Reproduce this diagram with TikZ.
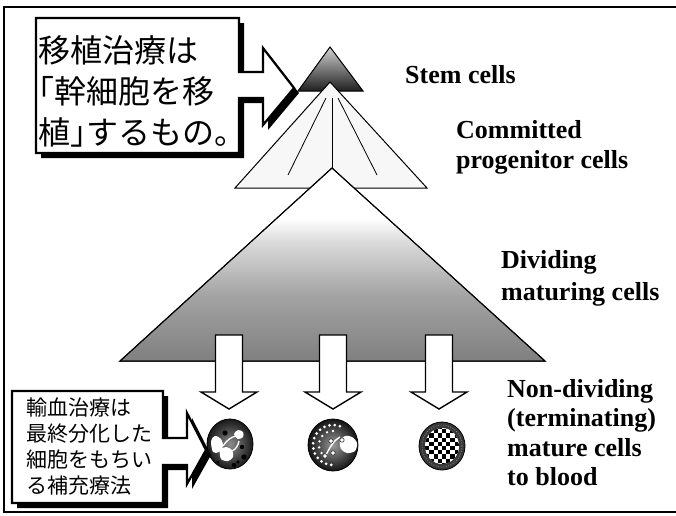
\documentclass[tikz,border=0pt]{standalone}
\usepackage{fontspec}
\setmainfont{Liberation Serif}
\newfontfamily\jpfont{Noto Sans CJK JP}
\newfontfamily\jphalf[RawFeature=+halt]{Noto Sans CJK JP}
% white near the apex, mid grey towards the base
\pgfdeclareverticalshading{maturing}{100bp}{color(0bp)=(black!50); color(25bp)=(black!50); color(42bp)=(black!36); color(56bp)=(black!14); color(62bp)=(white); color(100bp)=(white)}
\begin{document}
\begin{tikzpicture}[x=1pt,y=-1pt,
  frameline/.style={line width=1.4pt},
  tri/.style={draw=black, line width=1pt, line join=miter},
  fanline/.style={line width=0.8pt},
  blockarrow/.style={fill=white, draw=black, line width=1.4pt, line join=miter},
  callout/.style={fill=white, draw=black, line width=2.2pt, line join=miter},
  calloutshade/.style={fill=black},
  celldark/.style={draw=black, line width=0.8pt, inner color=black!45, outer color=black!90},
  granule/.style={fill=white},
  lbl/.style={font=\bfseries\fontsize{26}{30}\selectfont, anchor=base west, align=left, inner sep=0pt},
  jptext/.style={anchor=base west, align=left, inner sep=0pt},
]
\useasboundingbox (0,0) rectangle (676,515);
\fill[white] (0,0) rectangle (676,515);

% frame
\draw[frameline] (676,7) -- (4,7) -- (4,512) -- (676,512);

% stem cell triangle
\shade[tri, top color=black!18, bottom color=black!88] (330,47) -- (363,91) -- (298,91) -- cycle;
% committed progenitor triangle with its fan of lines
\filldraw[tri, fill=black!3] (330,82) -- (427,188) -- (235,188) -- cycle;
\draw[fanline] (326,98) -- (288,175);
\draw[fanline] (332,98) -- (332,168);
\draw[fanline] (338,98) -- (377,175);
% dividing maturing cells
\shade[tri, shading=maturing] (332,168) -- (545,361) -- (120,361) -- cycle;
\draw[tri] (332,168) -- (545,361) -- (120,361) -- cycle;

% block arrows down to the mature cells
\foreach \cx in {229,333,439}
  \draw[blockarrow] ({\cx-13.5},335) -- ({\cx+13.5},335) -- ({\cx+13.5},392)
    -- ({\cx+28},392) -- (\cx,409) -- ({\cx-28},392) -- ({\cx-13.5},392) -- cycle;

% mature cell 1: granulocyte with lobed nucleus
\shade[celldark] (230,444) ellipse [x radius=23, y radius=25];
\fill[white] plot[smooth cycle] coordinates {(211,441) (215,436) (221,439) (223,446) (219,452) (213,452)};
\fill[white] plot[smooth cycle] coordinates {(220,450) (226,447) (232,450) (233,457) (228,461) (221,459)};
\fill[white] plot[smooth cycle] coordinates {(234,434) (238,430) (243,432) (243,437) (238,439)};
\draw[white, line width=1.3pt] (223,446) .. controls (227,440) and (231,437) .. (236,436);
\draw[white, line width=1.3pt] (232,451) .. controls (236,449) and (238,446) .. (239,441);
\fill[black] (225,433) circle (2.6) (242,447) circle (2.2) (234,465) circle (2.2)
  (244,457) circle (2.6) (238,462) circle (1.8) (218,462) circle (1.5);

% mature cell 2: granule-filled cell
\shade[celldark, inner color=black!40, outer color=black!92] (333,445) ellipse [x radius=25, y radius=26];
\foreach \a in {95,110,...,290}
  \fill[granule] ([shift={(\a:20)}]333,445) circle (1.5);
\foreach \a in {120,145,...,270}
  \fill[granule] ([shift={(\a:14)}]333,445) circle (1.3);
\fill[white] plot[smooth cycle] coordinates {(340,441) (345,436) (352,437) (357,443) (355,451) (347,453) (341,449)};
\draw[white, line width=1.4pt] (326,455) .. controls (330,447) and (334,440) .. (340,437);
\foreach \p in {(331,441),(333,453),(342,440),(325,456)}
  \filldraw[fill=white, draw=black!80, line width=0.6pt] \p circle (2.2);

% mature cell 3: erythrocyte-like ring with checkered body
\filldraw[fill=black!78, draw=black, line width=0.8pt] (442,446) ellipse [x radius=23, y radius=24];
\draw[black!40, line width=0.6pt, dash pattern=on 1pt off 1.5pt] (442,446) ellipse [x radius=20, y radius=21];
\begin{scope}
  \clip (442,446) ellipse [x radius=17, y radius=18];
  \fill[white] (420,424) rectangle (464,468);
  \foreach \i in {0,...,10}
    \foreach \j in {0,...,10} {
      \pgfmathtruncatemacro\chk{mod(\i+\j,2)}
      \ifnum\chk=0
        \fill[black] ({421+\i*4.2},{425+\j*4.2}) rectangle +(4.2,4.2);
      \fi
    }
\end{scope}

% callout: transplantation
\begin{scope}[shift={(5,5)}]
  \fill[calloutshade] (36,18) -- (239,18) -- (239,72) -- (263,72) -- (263,48) -- (294,88)
    -- (263,125) -- (263,98) -- (239,98) -- (239,153) -- (36,153) -- cycle;
\end{scope}
\draw[callout] (36,18) -- (239,18) -- (239,72) -- (263,72) -- (263,48) -- (294,88)
  -- (263,125) -- (263,98) -- (239,98) -- (239,153) -- (36,153) -- cycle;
% multi-line nodes sit on the baseline of their last line
\node[jptext, font=\jpfont\fontsize{32}{41}\selectfont] (transplant) at (38,144)
  {移植治療は\\{\jphalf 「}幹細胞を移\\植{\jphalf 」}するもの。};

% callout: transfusion
\begin{scope}[shift={(5,5)}]
  \fill[calloutshade] (12,391) -- (163,391) -- (163,438) -- (187,438) -- (187,413) -- (206,450)
    -- (187,484) -- (187,465) -- (163,465) -- (163,503) -- (12,503) -- cycle;
\end{scope}
\draw[callout] (12,391) -- (163,391) -- (163,438) -- (187,438) -- (187,413) -- (206,450)
  -- (187,484) -- (187,465) -- (163,465) -- (163,503) -- (12,503) -- cycle;
\node[jptext, font=\jpfont\fontsize{21}{25.7}\selectfont] (transfusion) at (26,493)
  {輸血治療は\\最終分化した\\細胞をもちい\\る補充療法};

% stage labels
\node[lbl] (stem) at (405,83) {Stem cells};
\node[lbl] (committed) at (456,168) {Committed\\progenitor cells};
\node[lbl, font=\bfseries\fontsize{26}{32}\selectfont] (dividing) at (501,300) {Dividing\\maturing cells};
\node[lbl, font=\bfseries\fontsize{26}{29.5}\selectfont] (nondividing) at (507,485.5)
  {Non-dividing\\(terminating)\\mature cells\\to blood};
\end{tikzpicture}
\end{document}
